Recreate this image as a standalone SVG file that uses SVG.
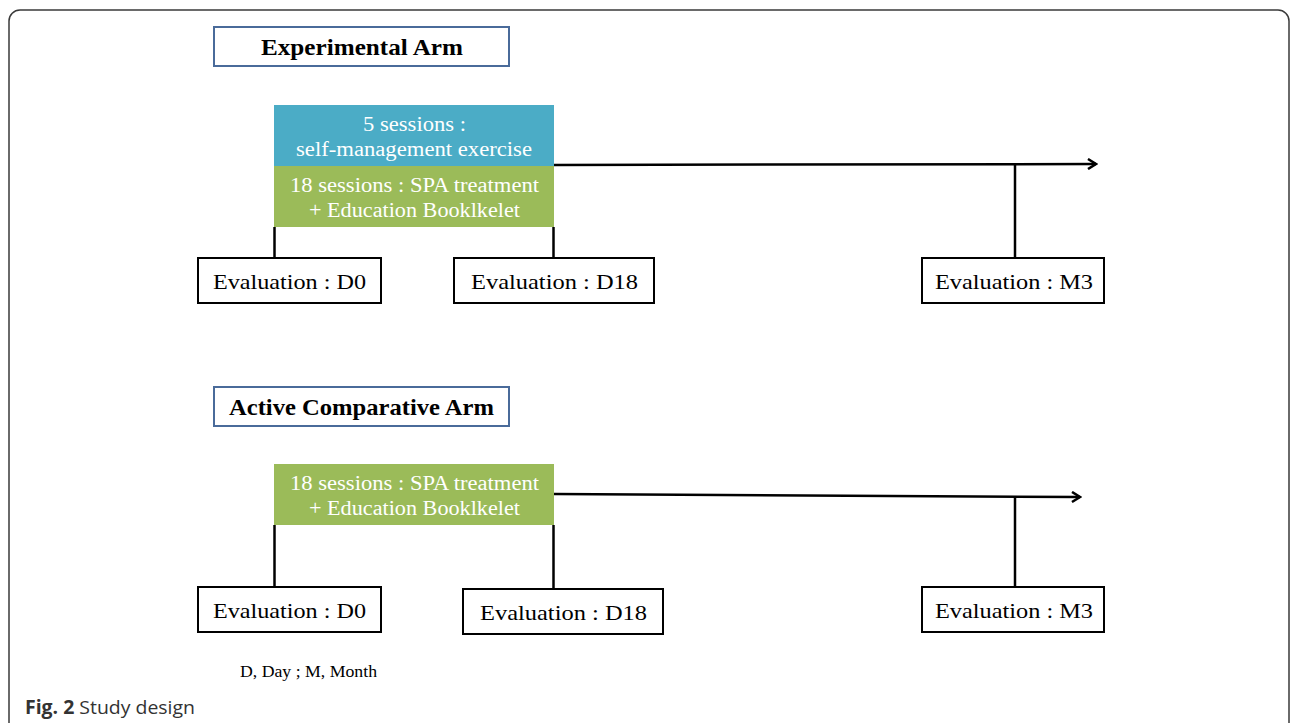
<svg xmlns="http://www.w3.org/2000/svg" width="1292" height="723" viewBox="0 0 1292 723">
<defs>
<style>
.frame{fill:none;stroke:#3a3a3a;stroke-width:1.5}
.title{fill:#fff;stroke:#4a6b9a;stroke-width:2}
.ttl{font-family:"Liberation Serif",serif;font-weight:bold;font-size:23px;fill:#000;text-anchor:middle}
.blue{fill:#4bacc6}
.green{fill:#9bbb59}
.wt{font-family:"Liberation Serif",serif;font-size:20px;fill:#fff;text-anchor:middle}
.ev{fill:#fff;stroke:#000;stroke-width:2}
.et{font-family:"Liberation Serif",serif;font-size:22px;fill:#000;text-anchor:middle}
.ln{fill:none;stroke:#000;stroke-width:2.5}
.note{font-family:"Liberation Serif",serif;font-size:17px;fill:#000}
.cap{font-family:"Open Sans","Liberation Sans",sans-serif;font-size:19px;fill:#333}
</style>
<marker id="arr" markerWidth="12" markerHeight="12" refX="10" refY="6" orient="auto" markerUnits="userSpaceOnUse">
<path d="M2,1 L10,6 L2,11" fill="none" stroke="#000" stroke-width="2.5"/>
</marker>
</defs>
<rect width="1292" height="723" fill="#fff"/>
<rect class="frame" x="9" y="10" width="1280" height="760" rx="11"/>

<g id="connectors">
<line class="ln" x1="554" y1="165" x2="1096" y2="164" marker-end="url(#arr)"/>
<line class="ln" x1="274.5" y1="227" x2="274.5" y2="258"/>
<line class="ln" x1="553.5" y1="227" x2="553.5" y2="258"/>
<line class="ln" x1="1015" y1="165" x2="1015" y2="258"/>
<line class="ln" x1="554" y1="494" x2="1080" y2="497" marker-end="url(#arr)"/>
<line class="ln" x1="274.5" y1="525" x2="274.5" y2="587"/>
<line class="ln" x1="553.5" y1="525" x2="553.5" y2="589"/>
<line class="ln" x1="1015" y1="496" x2="1015" y2="587"/>
</g>

<g id="exp-title">
<rect class="title" x="214" y="27" width="295" height="39"/>
<text class="ttl" x="362" y="55" textLength="202" lengthAdjust="spacingAndGlyphs">Experimental Arm</text>
</g>
<g id="exp-selfmgmt">
<rect class="blue" x="274" y="105" width="280" height="61"/>
<text class="wt" x="414.5" y="131" textLength="103" lengthAdjust="spacingAndGlyphs">5 sessions :</text>
<text class="wt" x="414" y="156" textLength="236" lengthAdjust="spacingAndGlyphs">self-management exercise</text>
</g>
<g id="exp-spa">
<rect class="green" x="274" y="166" width="280" height="61"/>
<text class="wt" x="414.5" y="192" textLength="249" lengthAdjust="spacingAndGlyphs">18 sessions : SPA treatment</text>
<text class="wt" x="414.5" y="217" textLength="211" lengthAdjust="spacingAndGlyphs">+ Education Booklkelet</text>
</g>
<g id="exp-d0">
<rect class="ev" x="198" y="258" width="183" height="45"/>
<text class="et" x="289.5" y="289" textLength="153" lengthAdjust="spacingAndGlyphs">Evaluation : D0</text>
</g>
<g id="exp-d18">
<rect class="ev" x="454" y="258" width="200" height="45"/>
<text class="et" x="554.5" y="289" textLength="167" lengthAdjust="spacingAndGlyphs">Evaluation : D18</text>
</g>
<g id="exp-m3">
<rect class="ev" x="922" y="258" width="182" height="45"/>
<text class="et" x="1014" y="289" textLength="158" lengthAdjust="spacingAndGlyphs">Evaluation : M3</text>
</g>

<g id="act-title">
<rect class="title" x="214" y="387" width="295" height="39"/>
<text class="ttl" x="361.5" y="415" textLength="265" lengthAdjust="spacingAndGlyphs">Active Comparative Arm</text>
</g>
<g id="act-spa">
<rect class="green" x="274" y="464" width="280" height="61"/>
<text class="wt" x="414.5" y="490" textLength="249" lengthAdjust="spacingAndGlyphs">18 sessions : SPA treatment</text>
<text class="wt" x="414.5" y="515" textLength="211" lengthAdjust="spacingAndGlyphs">+ Education Booklkelet</text>
</g>
<g id="act-d0">
<rect class="ev" x="198" y="587" width="183" height="45"/>
<text class="et" x="289.5" y="618" textLength="153" lengthAdjust="spacingAndGlyphs">Evaluation : D0</text>
</g>
<g id="act-d18">
<rect class="ev" x="463" y="589" width="200" height="45"/>
<text class="et" x="563.5" y="620" textLength="167" lengthAdjust="spacingAndGlyphs">Evaluation : D18</text>
</g>
<g id="act-m3">
<rect class="ev" x="922" y="587" width="182" height="45"/>
<text class="et" x="1014" y="618" textLength="158" lengthAdjust="spacingAndGlyphs">Evaluation : M3</text>
</g>

<text class="note" x="240" y="677" textLength="137" lengthAdjust="spacingAndGlyphs">D, Day ; M, Month</text>
<text class="cap" x="25" y="714" textLength="170" lengthAdjust="spacingAndGlyphs"><tspan font-weight="bold">Fig. 2</tspan> Study design</text>
</svg>
